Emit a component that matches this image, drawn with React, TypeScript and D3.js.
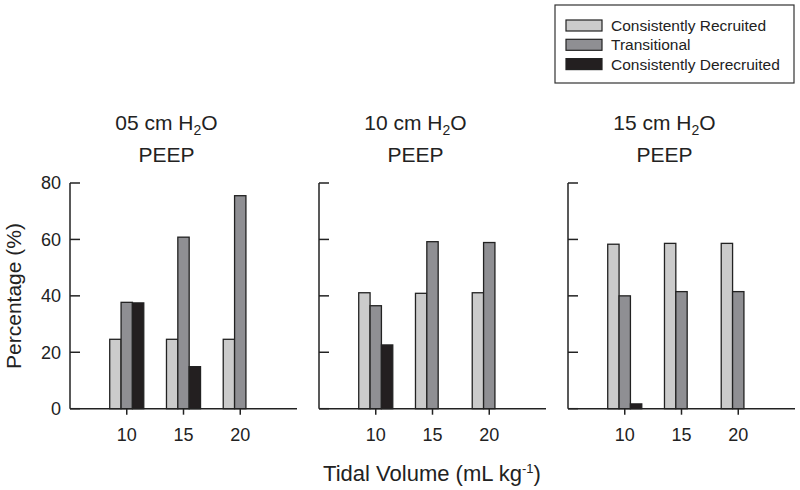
import React from "react";
import * as d3 from "d3";

const panelTitles = ["05", "10", "15"];
const tidalVolumes = [10, 15, 20];
const seriesNames = ["Consistently Recruited", "Transitional", "Consistently Derecruited"];
const seriesColors = ["#cbcbcb", "#8f8f93", "#231f20"];
const consistentlyRecruited = [
  [24.6, 24.6, 24.6],
  [41.1, 40.9, 41.1],
  [58.3, 58.6, 58.6],
];
const transitional = [
  [37.7, 60.8, 75.5],
  [36.5, 59.2, 58.9],
  [40.0, 41.5, 41.5],
];
const consistentlyDerecruited = [
  [37.5, 14.9, 0],
  [22.6, 0, 0],
  [1.7, 0, 0],
];
const yTicks = [0, 20, 40, 60, 80];

const W = 800;
const H = 490;
const FONT = "'Liberation Sans', Arial, sans-serif";
const INK = "#222";

export default function App() {
  const series = [consistentlyRecruited, transitional, consistentlyDerecruited];
  const panelRanges: [number, number][] = [
    [70, 297],
    [319, 546],
    [568, 795],
  ];
  const y = d3.scaleLinear().domain([0, 80]).range([408.7, 183]);
  const barW = 11.35;

  return (
    <svg
      width={W}
      height={H}
      style={{ position: "absolute", left: 0, top: 0, background: "#fff" }}
      fontFamily={FONT}
    >
      <rect x={0} y={0} width={W} height={H} fill="#fff" />
      {panelTitles.map((t, pi) => {
        const x = d3.scaleLinear().domain([5, 25]).range(panelRanges[pi]);
        const x0 = panelRanges[pi][0];
        const x1 = panelRanges[pi][1];
        const tc = x(13.5);
        return (
          <g key={pi}>
            <text x={tc} y={130} textAnchor="middle" fontSize={21} fill={INK}>
              {t} cm H
              <tspan fontSize={14} dy={5}>2</tspan>
              <tspan dy={-5}>O</tspan>
            </text>
            <text x={tc} y={162} textAnchor="middle" fontSize={21} fill={INK}>
              PEEP
            </text>
            {tidalVolumes.map((tv, ci) =>
              series.map((s, si) => {
                const v = s[pi][ci];
                if (!v) return null;
                const bx = x(tv) - barW * 1.5 + si * barW;
                return (
                  <rect
                    key={`${ci}-${si}`}
                    x={bx}
                    y={y(v)}
                    width={barW}
                    height={y(0) - y(v)}
                    fill={seriesColors[si]}
                    stroke={INK}
                    strokeWidth={1.3}
                  />
                );
              })
            )}
            <line x1={x0} x2={x0} y1={y(80)} y2={y(0)} stroke={INK} strokeWidth={1.5} />
            <line x1={x0} x2={x1} y1={y(0)} y2={y(0)} stroke={INK} strokeWidth={1.5} />
            {yTicks.map((yt) => (
              <g key={yt}>
                <line x1={x0} x2={x0 + 10} y1={y(yt)} y2={y(yt)} stroke={INK} strokeWidth={1.5} />
                {pi === 0 && (
                  <text x={61} y={y(yt)} dy="0.36em" textAnchor="end" fontSize={18} fill={INK}>
                    {yt}
                  </text>
                )}
              </g>
            ))}
            {tidalVolumes.map((tv) => (
              <g key={tv}>
                <line x1={x(tv)} x2={x(tv)} y1={y(0)} y2={y(0) + 6} stroke={INK} strokeWidth={1.5} />
                <text x={x(tv)} y={441} textAnchor="middle" fontSize={18} fill={INK}>
                  {tv}
                </text>
              </g>
            ))}
          </g>
        );
      })}
      <text x={432} y={481} textAnchor="middle" fontSize={22} fill={INK}>
        Tidal Volume (mL kg
        <tspan fontSize={13} dy={-8}>-1</tspan>
        <tspan dy={8}>)</tspan>
      </text>
      <text
        transform={`translate(21,296) rotate(-90)`}
        textAnchor="middle"
        fontSize={21}
        fill={INK}
      >
        Percentage (%)
      </text>
      <g>
        <rect x={555} y={5} width={239} height={78} fill="#fff" stroke="#333" strokeWidth={1.2} />
        {seriesNames.map((n, i) => (
          <g key={n}>
            <rect
              x={566}
              y={20 + i * 19.3}
              width={36}
              height={11}
              fill={seriesColors[i]}
              stroke={INK}
              strokeWidth={1.2}
            />
            <text x={611} y={31 + i * 19.3} fontSize={15.5} fill={INK}>
              {n}
            </text>
          </g>
        ))}
      </g>
    </svg>
  );
}
